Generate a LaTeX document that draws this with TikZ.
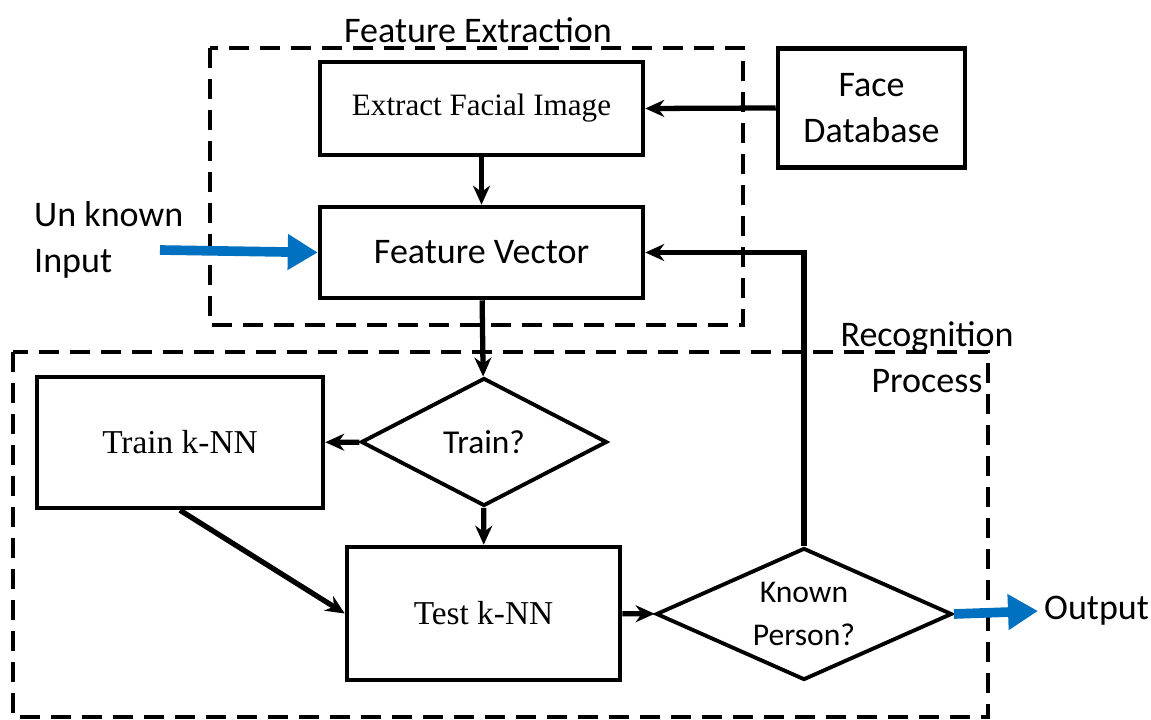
\documentclass[tikz,border=0pt]{standalone}
\usepackage{fontspec}
\setmainfont{Liberation Serif}
\newfontfamily\sanstext{Carlito}
\usetikzlibrary{shapes.geometric,arrows.meta,positioning}
\definecolor{azulflecha}{RGB}{0,112,192}
\tikzset{>=stealth}
\tikzset{procbox/.style={draw,line width=2.6pt,inner sep=0pt,align=center,font=\fontsize{19}{22}\selectfont},
	decision/.style={draw,diamond,line width=2.2pt,inner sep=0pt,aspect=2.2,align=center},
	group/.style={draw,line width=2.2pt,dash pattern=on 0.4cm off 0.22cm},
	link/.style={-{Stealth[length=0.38cm,width=0.34cm]},line width=3pt},
	bluearrow/.style={-{Triangle[length=0.6cm,width=0.68cm]},line width=5.5pt,azulflecha},
	sanslabel/.style={font=\sanstext\fontsize{20.5}{26}\selectfont}}

\begin{document}
\begin{tikzpicture}[x=0.02cm,y=-0.02cm]
	\useasboundingbox (0,0) rectangle (1151,719);
	
	% dashed groups
	\draw[group] (210,48) rectangle (743,325);
	\draw[group] (13,352) rectangle (988,717);
	\node[sanslabel] (fetitle) at (478,30) {Feature Extraction};
	\node[sanslabel,align=center] (rptitle) at (927,357) {Recognition\\Process};
	
	% blocks
	\node[procbox,minimum width=6.46cm,minimum height=1.86cm,font=\fontsize{17.7}{22}\selectfont] (extract) at (481.5,108.5) {Extract Facial Image};
	\node[procbox,sanslabel,minimum width=3.74cm,minimum height=2.38cm] (facedb) at (871.5,108) {Face\\Database};
	\node[procbox,sanslabel,minimum width=6.46cm,minimum height=1.82cm] (vector) at (481.5,252.5) {Feature Vector};
	\node[decision,minimum width=4.92cm,minimum height=2.56cm,font=\sanstext\fontsize{19}{25}\selectfont] (train) at (484,442) {Train?};
	\node[procbox,minimum width=5.72cm,minimum height=2.62cm] (trainnn) at (180,442.5) {Train k-NN};
	\node[procbox,minimum width=5.46cm,minimum height=2.66cm] (testnn) at (483.5,613.5) {Test k-NN};
	\node[decision,minimum width=5.92cm,minimum height=2.64cm,font=\sanstext\fontsize{18}{24}\selectfont] (known) at (804,614) {Known\\Person?};
	
	% inputs and outputs
	\node[sanslabel,anchor=west,align=left] (unknown) at (28,240) {Un known\\Input};
	\node[sanslabel,anchor=west] (output) at (1038,611) {Output};
	\coordinate (inputstart) at (160,250);
	
	% connectors
	\draw[link] (facedb.west) -- (extract.east);
	\draw[link] (extract) -- (vector);
	\draw[bluearrow] (inputstart) -- (vector.west);
	\draw[link] (vector) -- (train);
	\draw[link] (train) -- (trainnn);
	\draw[link] (train) -- (testnn);
	\draw[link] (trainnn.south) -- (testnn.west);
	\draw[link] (testnn) -- (known);
	\draw[link] (known.north) |- (vector.east);
	\draw[bluearrow] (known.east) -- (output.west);
	
\end{tikzpicture}
\end{document}
